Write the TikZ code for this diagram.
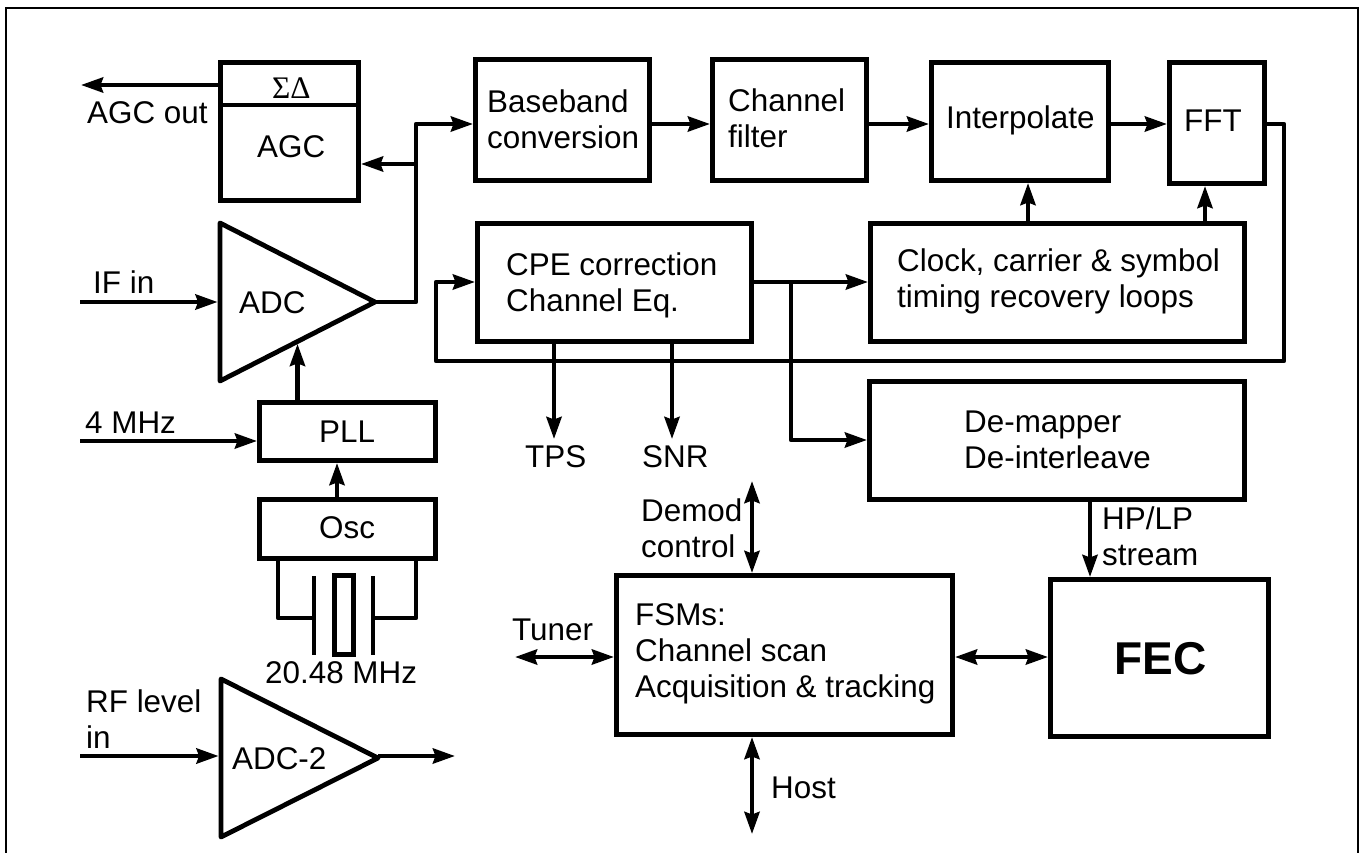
\documentclass[tikz,border=0pt]{standalone}
\usepackage{fontspec}
\setmainfont{Liberation Sans}
\newfontfamily\greekfont{Liberation Serif}
\usetikzlibrary{arrows.meta, shapes.geometric}

\tikzset{
  blockbox/.style 2 args={draw, line width=4.8pt, rectangle, inner sep=0pt, minimum width=#1pt-4.8pt, minimum height=#2pt-4.8pt},
  adcblock/.style={draw, line width=4.8pt, line join=round, isosceles triangle, isosceles triangle stretches,
    inner sep=0pt, outer sep=0pt, anchor=apex, minimum width=158pt, minimum height=#1pt},
  wire/.style={line width=4.4pt, line join=round},
  sig/.style={wire, -{Stealth[length=22pt, width=15pt, inset=2.5pt]}},
  bisig/.style={wire, {Stealth[length=22pt, width=15pt, inset=2.5pt]}-{Stealth[length=22pt, width=15pt, inset=2.5pt]}},
  blocktext/.style={anchor=base west, inner sep=0pt, align=left, font=\fontsize{31.4}{36}\selectfont},
}

\begin{document}
\begin{tikzpicture}[x=1pt, y=-1pt]
  \useasboundingbox (0,0) rectangle (1359,853);

  % outer frame, open at the bottom
  \draw[line width=2.4pt] (6,853) -- (6,8) -- (1358,8) -- (1358,853);

  % left column
  \node[blockbox={143}{143}] (agc) at (289.5,131.5) {};
  \node[adcblock=155] (adc) at (375,302) {};
  \node[blockbox={181}{63}] (pll) at (347.5,431.5) {};
  \node[blockbox={181}{64}] (osc) at (347.5,529) {};
  \node[adcblock=157] (adctwo) at (378,758) {};

  % top row
  \node[blockbox={179}{126}] (baseband) at (562.5,120) {};
  \node[blockbox={159}{126}] (chfilter) at (789.5,120) {};
  \node[blockbox={182}{123}] (interp) at (1020,121.5) {};
  \node[blockbox={100}{126}] (fft) at (1217,123) {};

  % middle row
  \node[blockbox={279}{123}] (cpe) at (614.5,282.5) {};
  \node[blockbox={379}{123}] (clock) at (1057.5,282.5) {};
  \node[blockbox={380}{123}] (demap) at (1057,440.5) {};

  % bottom row
  \node[blockbox={341}{164}] (fsm) at (784.5,655) {};
  \node[blockbox={223}{162}] (fec) at (1159.5,658) {};

  % free ends and tap points
  \coordinate (rowa) at (0,124);
  \coordinate (rowb) at (0,282);
  \coordinate (rowc) at (0,657);
  \coordinate (agctap) at (0,164);
  \coordinate (agcoutend) at (81,85);
  \coordinate (ifstart) at (80,302);
  \coordinate (refstart) at (80,441);
  \coordinate (rfstart) at (80,756);
  \coordinate (rfend) at (455,756);
  \coordinate (split) at (416,302);
  \coordinate (splitup) at (416,124);
  \coordinate (fbka) at (1284,124);
  \coordinate (fbkb) at (1284,361);
  \coordinate (fbkc) at (436,361);
  \coordinate (fbkd) at (436,282);
  \coordinate (eqtap) at (791,282);
  \coordinate (eqdown) at (791,440);
  \coordinate (tpsend) at (554,439);
  \coordinate (snrend) at (672,439);
  \coordinate (ctlend) at (752,481);
  \coordinate (hostend) at (752,834);
  \coordinate (tunerend) at (515,657);

  % sigma-delta divider
  \draw[line width=4.8pt] (agc.west |- 0,105) -- (agc.east |- 0,105);

  % crystal
  \draw[wire] (278,561) -- (278,618) -- (314,618);
  \draw[wire] (373,618) -- (416,618) -- (416,561);
  \draw[wire] (314,576) -- (314,655);
  \draw[wire] (373,576) -- (373,655);
  \node[blockbox={24}{84}] (xtal) at (344,615) {};

  % signal path
  \draw[sig] (agc.west |- agcoutend) -- (agcoutend);
  \draw[sig, shorten >=2.4pt] (ifstart) -- (adc.lower side);
  \draw[sig] (adc.apex) -- (split) -- (splitup) -- (baseband.west |- rowa);
  \draw[sig] (split |- agctap) -- (agc.east |- agctap);
  \draw[sig] (refstart) -- (pll.west |- refstart);
  \draw[sig, shorten >=2.4pt] (adc.right side |- pll.north) -- (adc.right side);
  \draw[sig] (337,497) -- (337,463);
  \draw[sig, shorten >=2.4pt] (rfstart) -- (adctwo.lower side |- rfstart);
  \draw[sig] (adctwo.apex |- rfend) -- (rfend);

  \draw[sig] (baseband.east |- rowa) -- (chfilter.west |- rowa);
  \draw[sig] (chfilter.east |- rowa) -- (interp.west |- rowa);
  \draw[sig] (interp.east |- rowa) -- (fft.west |- rowa);
  \draw[sig] (1028,221) -- (1028,183);
  \draw[sig] (1205,221) -- (1205,186);

  \draw[sig] (fft.east |- rowa) -- (fbka) -- (fbkb) -- (fbkc) -- (fbkd) -- (cpe.west |- rowb);
  \draw[sig] (cpe.east |- rowb) -- (clock.west |- rowb);
  \draw[sig] (eqtap) -- (eqdown) -- (demap.west |- eqdown);
  \draw[sig] (tpsend |- cpe.south) -- (tpsend);
  \draw[sig] (snrend |- cpe.south) -- (snrend);
  \draw[sig] (1090,502) -- (1090,577);

  \draw[bisig] (ctlend) -- (ctlend |- fsm.north);
  \draw[bisig] (hostend) -- (hostend |- fsm.south);
  \draw[bisig] (tunerend) -- (fsm.west |- rowc);
  \draw[bisig] (fsm.east |- rowc) -- (fec.west |- rowc);

  % texts
  \node[blocktext] (sigmadelta) at (272,99) {\greekfont ΣΔ};
  \node[blocktext] (agclabel) at (257,158) {AGC};
  \node[blocktext] (agcout) at (87,124) {AGC out};
  \node[blocktext] (ifin) at (93,293) {IF in};
  \node[blocktext] (adclabel) at (239,313) {ADC};
  \node[blocktext] (refin) at (85,433) {4 MHz};
  \node[blocktext] (plllabel) at (319,442) {PLL};
  \node[blocktext] (osclabel) at (319,538) {Osc};
  \node[blocktext] (xtallabel) at (265,683) {20.48 MHz};
  \node[blocktext] (rfin) at (86,748) {RF level\\in};
  \node[blocktext] (adctwolabel) at (232,769) {ADC-2};

  \node[blocktext] (basebandlabel) at (487,149) {Baseband\\conversion};
  \node[blocktext] (chfilterlabel) at (728,148) {Channel\\filter};
  \node[blocktext] (interplabel) at (946,129) {Interpolate};
  \node[blocktext] (fftlabel) at (1184,132) {FFT};
  \node[blocktext] (cpelabel) at (506,311) {CPE correction\\Channel Eq.};
  \node[blocktext] (clocklabel) at (897,307) {Clock, carrier \& symbol\\timing recovery loops};
  \node[blocktext] (demaplabel) at (964,468) {De-mapper\\De-interleave};
  \node[blocktext] (tps) at (525,467) {TPS};
  \node[blocktext] (snr) at (642,467) {SNR};

  \node[blocktext] (demod) at (641,557) {Demod\\control};
  \node[blocktext] (hplp) at (1102,565) {HP/LP\\stream};
  \node[blocktext] (tuner) at (512,640) {Tuner};
  \node[blocktext] (fsmlabel) at (635,697) {FSMs:\\Channel scan\\Acquisition \& tracking};
  \node[blocktext, font=\fontsize{46}{52}\selectfont\bfseries] (feclabel) at (1114,674) {FEC};
  \node[blocktext] (host) at (771,798) {Host};

\end{tikzpicture}
\end{document}
